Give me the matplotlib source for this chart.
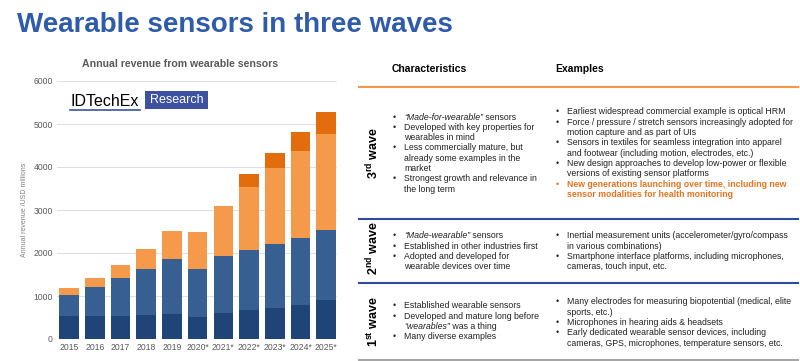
import matplotlib
matplotlib.use('Agg')
import matplotlib.pyplot as plt
import numpy as np
from matplotlib.lines import Line2D
from matplotlib.patches import Rectangle

plt.rcParams['font.family'] = ['Liberation Sans', 'DejaVu Sans']
plt.rcParams['mathtext.fontset'] = 'custom'
plt.rcParams['mathtext.rm'] = 'Liberation Sans'
plt.rcParams['mathtext.bf'] = 'Liberation Sans:bold'
plt.rcParams['mathtext.it'] = 'Liberation Sans:italic'

# ---------------- data ----------------
years = ['2015', '2016', '2017', '2018', '2019', '2020*', '2021*', '2022*', '2023*', '2024*', '2025*']
wave1 = [526, 526, 534, 550, 588, 511, 604, 666, 728, 797, 913]
wave2 = [503, 689, 875, 1075, 1277, 1114, 1323, 1408, 1486, 1548, 1626]
wave3 = [147, 209, 301, 457, 643, 852, 1161, 1463, 1764, 2020, 2237]
wave3_new = [0, 0, 0, 0, 0, 0, 0, 294, 341, 441, 495]
yticks = [0, 1000, 2000, 3000, 4000, 5000, 6000]

W, H = 800, 361
def fx(x):
    return x / W
def fy(y):
    return 1 - y / H

fig = plt.figure(figsize=(8, 3.61), dpi=100)
fig.patch.set_facecolor('white')

# title
fig.text(fx(17), fy(25), 'Wearable sensors in three waves', fontsize=20,
         fontweight='bold', color='#2f5bab', va='center', ha='left')

# ---------------- chart ----------------
ax = fig.add_axes([fx(57), fy(339), (337 - 57) / W, (339 - 81) / H])
x = np.arange(len(years))
series = [wave1, wave2, wave3, wave3_new]
colors = ['#1f4478', '#385f92', '#f5994b', '#e36c0c']
bottom = np.zeros(len(years))
for vals, c in zip(series, colors):
    v = np.array(vals, dtype=float)
    ax.bar(x, v, bottom=bottom, width=0.76, color=c, zorder=3)
    bottom += v
ax.set_ylim(0, 6000)
ax.set_xlim(-0.47, 10.42)
ax.set_yticks(yticks)
ax.set_yticklabels([str(t) for t in yticks])
ax.set_xticks(x)
ax.set_xticklabels(years)
ax.tick_params(length=0, labelsize=6.2, labelcolor='#595959', pad=3)
ax.grid(axis='y', color='#e0e0e0', lw=0.8, zorder=0)
for s in ax.spines.values():
    s.set_visible(False)

fig.text(fx(180), fy(64), 'Annual revenue from wearable sensors', fontsize=7.6,
         fontweight='bold', color='#595959', ha='center', va='center')
fig.text(fx(25), fy(210), 'Annual revenue /USD millions', rotation=90, fontsize=5,
         color='#808080', ha='center', va='center')

# logo
fig.text(fx(70), fy(101), 'IDTechEx', fontsize=11.5, color='black', ha='left', va='center')
fig.add_artist(Line2D([fx(70), fx(140)], [fy(110), fy(110)], color='#3a55a0', lw=1.2))
fig.add_artist(Rectangle((fx(145), fy(109)), (208 - 145) / W, 18 / H,
                         facecolor='#3d51a0', edgecolor='none', transform=fig.transFigure))
fig.text(fx(176.5), fy(100), 'Research', fontsize=9, color='white', ha='center', va='center')

# ---------------- table ----------------
def hline(y, color, lw=1.5):
    fig.add_artist(Line2D([fx(359), fx(798)], [fy(y), fy(y)], color=color, lw=lw))

hline(87, '#f79646')
hline(219, '#2f4a9c')
hline(283, '#2f4a9c')
hline(360, '#a6a6a6')

fig.text(fx(392), fy(69), 'Characteristics', fontsize=7.5, fontweight='bold', ha='left', va='center')
fig.text(fx(555), fy(69), 'Examples', fontsize=7.5, fontweight='bold', ha='left', va='center')

for lab, yc in [(r'$\mathbf{3^{rd}}$ wave', 153), (r'$\mathbf{2^{nd}}$ wave', 248),
                (r'$\mathbf{1^{st}}$ wave', 322)]:
    fig.text(fx(373), fy(yc), lab, rotation=90, fontsize=9, fontweight='bold',
             ha='center', va='center')

FS = 6.3
DY = 10.3

def rich_block(xb, xt, y0, lines, orange_from=None):
    y = y0
    for i, line in enumerate(lines):
        c, w = '#222222', 'normal'
        if orange_from is not None and i >= orange_from:
            c, w = '#e8731d', 'bold'
        if line.startswith('• '):
            fig.text(fx(xb), fy(y), '•', fontsize=FS, color=c, ha='left', va='center')
            line = line[2:]
        line = line.strip()
        parts = line.split('_')
        prev = None
        for k, p in enumerate(parts):
            if p == '':
                continue
            style = 'italic' if k % 2 == 1 else 'normal'
            if prev is None:
                prev = fig.text(fx(xt), fy(y), p, fontsize=FS, color=c, fontweight=w,
                                style=style, ha='left', va='center')
            else:
                prev = plt.annotate(p, xy=(1, 0.5), xycoords=prev, fontsize=FS, color=c,
                                    fontweight=w, style=style, ha='left', va='center',
                                    annotation_clip=False)
        y += DY

rich_block(393, 404, 117, [
    '• _“Made-for-wearable”_ sensors',
    '• Developed with key properties for',
    'wearables in mind',
    '• Less commercially mature, but',
    'already some examples in the',
    'market',
    '• Strongest growth and relevance in',
    'the long term',
])
rich_block(556, 567, 112, [
    '• Earliest widespread commercial example is optical HRM',
    '• Force / pressure / stretch sensors increasingly adopted for',
    'motion capture and as part of UIs',
    '• Sensors in textiles for seamless integration into apparel',
    'and footwear (including motion, electrodes, etc.)',
    '• New design approaches to develop low-power or flexible',
    'versions of existing sensor platforms',
    '• New generations launching over time, including new',
    'sensor modalities for health monitoring',
], orange_from=7)

rich_block(393, 404, 236, [
    '• _“Made-wearable”_ sensors',
    '• Established in other industries first',
    '• Adopted and developed for',
    'wearable devices over time',
])
rich_block(556, 567, 236, [
    '• Inertial measurement units (accelerometer/gyro/compass',
    'in various combinations)',
    '• Smartphone interface platforms, including microphones,',
    'cameras, touch input, etc.',
])

rich_block(393, 404, 306, [
    '• Established wearable sensors',
    '• Developed and mature long before',
    '_“wearables”_ was a thing',
    '• Many diverse examples',
])
rich_block(556, 567, 302, [
    '• Many electrodes for measuring biopotential (medical, elite',
    'sports, etc.)',
    '• Microphones in hearing aids & headsets',
    '• Early dedicated wearable sensor devices, including',
    'cameras, GPS, microphones, temperature sensors, etc.',
])

fig.savefig('out.png', dpi=100, facecolor='white')
